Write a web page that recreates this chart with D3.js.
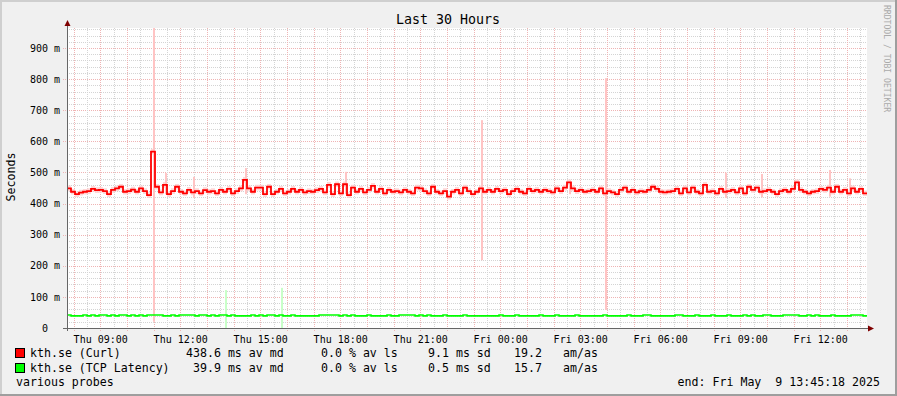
<!DOCTYPE html>
<html>
<head>
<meta charset="utf-8">
<script src="https://cdn.jsdelivr.net/npm/d3@7"></script>
<style>
body{margin:0;background:#f0f0f0;}
svg{display:block;font-family:"DejaVu Sans Mono",monospace;}
text{white-space:pre;}
</style>
</head>
<body>
<svg id="myGraph" width="897" height="396"></svg>
<script>
var title="Last 30 Hours";
var yTitle="Seconds";
var watermark="RRDTOOL / TOBI OETIKER";
var footLeft="various probes";
var footRight="end: Fri May  9 13:45:18 2025";

var startTime=new Date(2025,4,8,7,45,18);
var endTime=new Date(2025,4,9,13,45,18);
var stepSec=540;

var yTickValues=[0,100,200,300,400,500,600,700,800,900];
var yTickLabels=["0  ","100 m","200 m","300 m","400 m","500 m","600 m","700 m","800 m","900 m"];

// median curl (ms), one value per step
var curlMedian=[
449,438,430,435,438,440,447,443,444,440,430,444,449,454,438,440,445,438,449,440,
427,567,454,436,460,430,440,454,438,433,444,436,440,433,443,438,440,433,444,438,
447,433,440,449,476,449,438,451,451,430,
454,430,438,447,433,438,447,438,444,436,440,438,443,447,436,460,430,462,433,462,
427,451,438,447,436,444,457,438,447,433,444,438,440,436,444,438,433,451,449,440,
433,454,438,433,440,422,438,444,433,451,
440,430,438,449,438,444,438,447,440,444,430,440,447,438,433,447,440,444,438,444,
440,436,449,440,451,468,449,440,444,438,440,444,438,449,433,440,436,430,444,451,
438,444,436,440,438,444,454,447,438,436,
438,440,447,433,449,436,451,438,433,460,438,440,433,447,438,440,444,436,449,433,
454,444,451,438,440,444,438,430,440,444,438,447,468,444,438,433,438,440,447,444,
451,438,454,438,444,433,449,438,447,433
];
// median tcp latency (ms)
var tcpMedian=[
42,39,39,39,42,39,42,39,42,42,39,42,39,42,42,39,42,39,42,39,
42,42,42,42,39,39,42,39,42,42,42,42,39,42,42,39,42,39,42,42,
39,42,39,39,39,39,42,39,42,39,42,42,39,42,39,39,42,39,39,39,
39,39,39,42,42,42,42,42,39,42,39,42,39,39,39,42,39,39,39,39,
42,39,39,42,42,42,42,39,42,39,42,39,39,39,42,39,39,39,39,42,
39,39,39,39,39,39,39,39,42,39,39,39,42,39,39,39,39,39,42,39,
39,39,42,39,39,39,39,42,39,39,39,39,39,39,42,39,39,39,39,39,
42,39,39,39,42,42,39,39,39,39,39,39,42,42,39,39,39,42,39,39,
39,42,39,39,39,42,39,39,39,42,39,42,39,39,42,42,39,39,39,42,
42,42,42,39,39,42,39,42,39,39,39,42,39,39,39,39,42,42,42,39
];
// single ping outliers: [step, low ms, high ms]
var curlSpikes=[[21,20,964],[24,430,498],[31,418,486],[44,430,514],[69,430,502],
  [103,218,668],[125,430,470],[134,58,803],[164,418,499],[173,420,495],[190,422,508],[195,430,481]];
var tcpSpikes=[[39,0,122],[53,0,129]];

var seriesNames=["kth.se (Curl)","kth.se (TCP Latency)"];
var seriesColors=["#ff0000","#00ff00"];
var statMedian=["438.6 ms av md"," 39.9 ms av md"];
var statLoss=["0.0 % av ls","0.0 % av ls"];
var statSd=["9.1 ms sd","0.5 ms sd"];
var statAmas=["19.2","15.7"];
var curlSd=9.1;

window.addEventListener("load",function(){
	var svg=d3.select("#myGraph");
	var left=67,top=28,w=800,h=300;

	var xScale=d3.scaleTime().domain([startTime,endTime]).range([left,left+w]);
	var yScale=d3.scaleLinear().domain([0,964.3]).range([top+h,top]);
	function t(i){return new Date(startTime.getTime()+i*stepSec*1000);}

	// background + 3d frame
	svg.append("rect").attr("width",897).attr("height",396).attr("fill","#f0f0f0");
	svg.append("path").attr("d","M0,396V0H897").attr("fill","none").attr("stroke","#cfcfcf").attr("stroke-width",4);
	svg.append("path").attr("d","M0,396H897V0").attr("fill","none").attr("stroke","#9e9e9e").attr("stroke-width",4);
	svg.append("rect").attr("x",left).attr("y",top).attr("width",w).attr("height",h).attr("fill","#fff");

	// grid
	var g=svg.append("g").attr("shape-rendering","crispEdges");
	d3.range(0,965,20).forEach(function(v){
		var major=v%100==0;
		if(v==0)return;
		g.append("line")
		.attr("x1",major?63:left).attr("x2",left+w)
		.attr("y1",Math.round(yScale(v))+0.5).attr("y2",Math.round(yScale(v))+0.5)
		.attr("stroke",major?"#efb4b4":"#d4d4d4")
		.attr("stroke-dasharray","1,1");
	});
	xScale.ticks(d3.timeMinute.every(30)).forEach(function(d){
		var major=d.getMinutes()==0;
		var xx=Math.round(xScale(d))+0.5;
		g.append("line")
		.attr("x1",xx).attr("x2",xx)
		.attr("y1",top).attr("y2",major?top+h+3:top+h)
		.attr("stroke",major?"#efb4b4":"#d4d4d4")
		.attr("stroke-dasharray","1,1");
	});

	// smoke
	var curlPts=curlMedian.concat([curlMedian[curlMedian.length-1]]);
	var tcpPts=tcpMedian.concat([tcpMedian[tcpMedian.length-1]]);
	svg.append("path")
	.datum(curlPts)
	.attr("fill","#ffcccc").attr("opacity",0.8)
	.attr("d",d3.area().curve(d3.curveStepAfter)
		.x(function(d,i){return xScale(t(i));})
		.y0(function(d){return yScale(d-curlSd);})
		.y1(function(d){return yScale(d+curlSd);}));

	svg.selectAll("rect.cs").data(curlSpikes).enter().append("rect")
	.attr("class","cs")
	.attr("x",function(d){return xScale(t(d[0]))+2;})
	.attr("width",2)
	.attr("y",function(d){return yScale(d[2]);})
	.attr("height",function(d){return yScale(d[1])-yScale(d[2]);})
	.attr("fill","#ffc4c4");
	svg.selectAll("rect.ts").data(tcpSpikes).enter().append("rect")
	.attr("class","ts")
	.attr("x",function(d){return xScale(t(d[0]))+2;})
	.attr("width",2)
	.attr("y",function(d){return yScale(d[2]);})
	.attr("height",function(d){return yScale(d[1])-yScale(d[2]);})
	.attr("fill","#c8ffc8");

	// median lines
	var line=d3.line().curve(d3.curveStepAfter)
		.x(function(d,i){return xScale(t(i));})
		.y(function(d){return yScale(d);});
	svg.append("path").datum(tcpPts).attr("d",line)
	.attr("fill","none").attr("stroke",seriesColors[1]).attr("stroke-width",1.6);
	svg.append("path").datum(curlPts).attr("d",line)
	.attr("fill","none").attr("stroke",seriesColors[0]).attr("stroke-width",1.8);

	// axes
	var xAxis=d3.axisBottom(xScale)
		.ticks(d3.timeHour.every(3))
		.tickFormat(d3.timeFormat("%a %H:%M"))
		.tickSize(0).tickPadding(8);
	svg.append("g")
	.attr("transform","translate(0,"+(top+h)+")")
	.call(xAxis)
	.call(function(a){a.select(".domain").remove();})
	.selectAll("text").attr("font-family","DejaVu Sans Mono").attr("font-size",10).attr("fill","#000");

	var yAxis=d3.axisLeft(yScale)
		.tickValues(yTickValues)
		.tickFormat(function(d,i){return yTickLabels[i];})
		.tickSize(0).tickPadding(7);
	svg.append("g")
	.attr("transform","translate("+left+",0)")
	.call(yAxis)
	.call(function(a){a.select(".domain").remove();})
	.selectAll("text").attr("font-family","DejaVu Sans Mono").attr("font-size",10).attr("fill","#000");

	svg.append("line").attr("x1",left+0.5).attr("x2",left+0.5).attr("y1",top+h+3).attr("y2",24)
	.attr("stroke","#666").attr("shape-rendering","crispEdges");
	svg.append("line").attr("x1",63).attr("x2",870).attr("y1",top+h+0.5).attr("y2",top+h+0.5)
	.attr("stroke","#666").attr("shape-rendering","crispEdges");
	svg.append("path").attr("d","M67.5,20L64.5,26L70.5,26Z").attr("fill","#7f0000");
	svg.append("path").attr("d","M874,328.5L868,325.5L868,331.5Z").attr("fill","#7f0000");

	// titles
	svg.append("text").attr("x",448).attr("y",23.5).attr("text-anchor","middle")
	.attr("font-size",13.3).text(title);
	svg.append("text").attr("transform","translate(15,177) rotate(-90)").attr("text-anchor","middle")
	.attr("font-size",11.6).text(yTitle);
	svg.append("text").attr("transform","translate(884,5) rotate(90)")
	.attr("font-size",8.1).attr("fill","#aaaaaa").text(watermark);

	// legend
	var rows=[357,372];
	seriesNames.forEach(function(n,i){
		var yy=rows[i];
		svg.append("rect").attr("x",15.5).attr("y",yy-8.5).attr("width",9).attr("height",9)
		.attr("fill",seriesColors[i]).attr("stroke","#000").attr("shape-rendering","crispEdges");
		var cols=[[30,n],[186,statMedian[i]],[321,statLoss[i]],[428,statSd[i]],[514,statAmas[i]],[563,"am/as"]];
		cols.forEach(function(c){
			svg.append("text").attr("x",c[0]).attr("y",yy).attr("font-size",11.6).text(c[1]);
		});
	});
	svg.append("text").attr("x",16).attr("y",386).attr("font-size",11.6).text(footLeft);
	svg.append("text").attr("x",880).attr("y",386).attr("text-anchor","end").attr("font-size",11.6).text(footRight);
});
</script>
</body>
</html>
